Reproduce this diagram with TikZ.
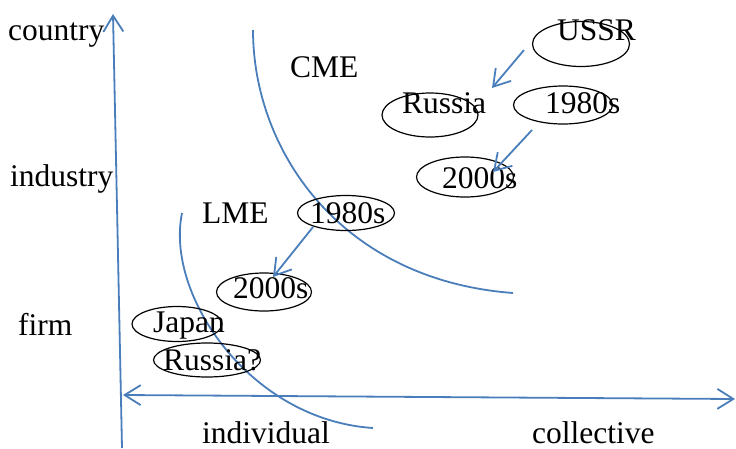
\documentclass[tikz,border=0pt]{standalone}
\usepackage{fontspec}
\setmainfont{Liberation Serif}
\usetikzlibrary{arrows.meta,shapes.geometric,calc}
\definecolor{axisblue}{HTML}{4A7EBB}

\begin{document}
\begin{tikzpicture}[x=1pt, y=-1pt,
    lbl/.style={font=\fontsize{31.5}{37}\selectfont, anchor=base west, inner sep=0pt},
    oval/.style={draw, ellipse, line width=1.2pt, inner sep=0pt},
    bline/.style={draw=axisblue, line width=1.8pt},
    barb/.style={bline, -{Straight Barb[length=16pt,width=20pt]}}]
  \useasboundingbox (0,0) rectangle (736,448);

  % axes
  \coordinate (yfoot) at (122,448);
  \coordinate (ytip) at (113,14);
  \coordinate (xleft) at (123,395);
  \coordinate (xright) at (735,399);
  \draw[barb] (yfoot) -- (ytip);
  \draw[bline, {Straight Barb[length=16pt,width=20pt]}-{Straight Barb[length=16pt,width=20pt]}] (xleft) -- (xright);

  % regime boundaries
  \draw[bline] (253,30) .. controls (253,150) and (340,280) .. (513,293);
  \draw[bline] (182,213) .. controls (165,295) and (250,420) .. (373,428);

  % ovals
  \node[oval, minimum width=97pt, minimum height=45pt] (ussr) at (581,44) {};
  \node[oval, minimum width=96pt, minimum height=44pt] (russia) at (430,115) {};
  \node[oval, minimum width=99pt, minimum height=38pt] (cme80) at (563,105) {};
  \node[oval, minimum width=97pt, minimum height=40pt] (cme00) at (465,177) {};
  \node[oval, minimum width=97pt, minimum height=35pt] (lme80) at (346,213) {};
  \node[oval, minimum width=95pt, minimum height=38pt] (lme00) at (264,292) {};
  \node[oval, minimum width=90pt, minimum height=35pt] (japan) at (177,324) {};
  \node[oval, minimum width=107pt, minimum height=34pt] (russiaq) at (207,360) {};

  % texts
  \node[lbl] (country) at (8,40) {country};
  \node[lbl] (industry) at (10,186) {industry};
  \node[lbl] (firm) at (18,335) {firm};
  \node[lbl] (individual) at (202,443) {individual};
  \node[lbl] (collective) at (532,443) {collective};
  \node[lbl] (cme) at (290,77) {CME};
  \node[lbl] (lme) at (202,223) {LME};
  \node[lbl] (ussrT) at (557,40) {USSR};
  \node[lbl] (russiaT) at (402,113) {Russia};
  \node[lbl] (cme80T) at (545,113) {1980s};
  \node[lbl] (cme00T) at (442,188) {2000s};
  \node[lbl] (lme80T) at (310,223) {1980s};
  \node[lbl] (lme00T) at (233,298) {2000s};
  \node[lbl] (japanT) at (153,332) {Japan};
  \node[lbl] (russiaqT) at (163,370) {Russia?};

  % shifts
  \draw[barb] ([shift={(-57,6)}]ussr.center) -- ([shift={(62,-27)}]russia.center);
  \draw[barb] ([shift={(-31,25)}]cme80.center) -- ([shift={(28,-5)}]cme00.center);
  \draw[barb] ([shift={(-33,14)}]lme80.center) -- ([shift={(9,-15)}]lme00.center);
\end{tikzpicture}
\end{document}
